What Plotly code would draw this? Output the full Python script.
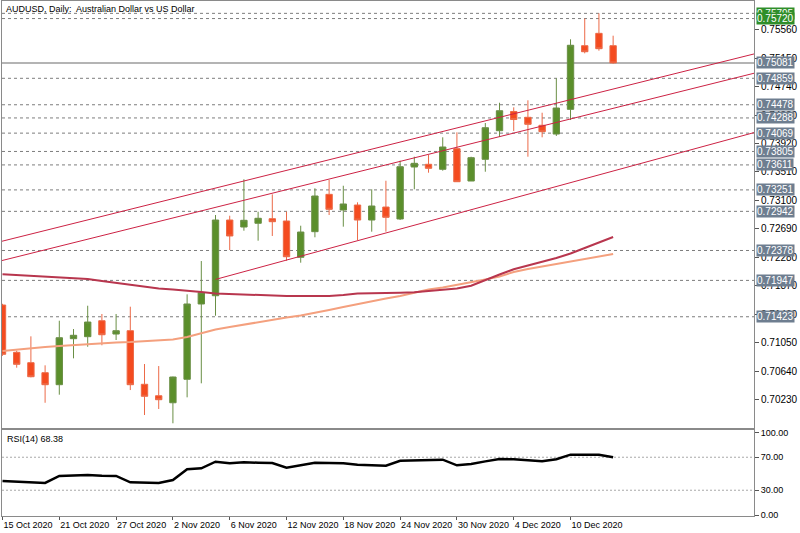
import plotly.graph_objects as go
import pandas as pd

# ---------------- data ----------------
dates = pd.bdate_range("2020-10-15", "2020-12-15")
bar_idx = list(range(len(dates)))

opens = [0.71592, 0.70911, 0.70761, 0.70617, 0.70444, 0.71107, 0.71136, 0.71366, 0.71174, 0.71222,
         0.70450, 0.70285, 0.70184, 0.70522, 0.71607, 0.71726, 0.72817, 0.72716, 0.72770, 0.72836,
         0.72803, 0.72280, 0.72649, 0.73187, 0.72961, 0.73033, 0.72817, 0.73004, 0.72832, 0.73581,
         0.73620, 0.73548, 0.73845, 0.73379, 0.73692, 0.74104, 0.74381, 0.74297, 0.74182, 0.74056,
         0.74412, 0.75329, 0.75507, 0.75329]
highs = [0.71610, 0.70934, 0.71141, 0.70723, 0.71366, 0.71246, 0.71582, 0.71463, 0.71463, 0.71568,
         0.70742, 0.70713, 0.70560, 0.71746, 0.72226, 0.72889, 0.72879, 0.73404, 0.72937, 0.73187,
         0.72937, 0.72735, 0.73274, 0.73394, 0.73311, 0.73072, 0.73260, 0.73383, 0.73672, 0.73729,
         0.73754, 0.74009, 0.74081, 0.73729, 0.74215, 0.74507, 0.74441, 0.74542, 0.74363, 0.74859,
         0.75421, 0.75720, 0.75795, 0.75473]
lows = [0.70860, 0.70689, 0.70550, 0.70184, 0.70300, 0.70824, 0.70991, 0.71012, 0.71088, 0.70367,
        0.70007, 0.70094, 0.69888, 0.70262, 0.70464, 0.71438, 0.72385, 0.72663, 0.72519, 0.72587,
        0.72231, 0.72202, 0.72568, 0.72889, 0.72721, 0.72529, 0.72649, 0.72649, 0.72817, 0.73260,
        0.73499, 0.73528, 0.73369, 0.73379, 0.73513, 0.74013, 0.74100, 0.73729, 0.74009, 0.74028,
        0.74258, 0.75219, 0.75257, 0.75070]
closes = [0.70882, 0.70738, 0.70559, 0.70444, 0.71121, 0.71156, 0.71347, 0.71164, 0.71222, 0.70444,
          0.70277, 0.70228, 0.70555, 0.71607, 0.71770, 0.72817, 0.72587, 0.72813, 0.72842, 0.72793,
          0.72288, 0.72644, 0.73163, 0.72971, 0.73048, 0.72817, 0.73019, 0.72856, 0.73585, 0.73634,
          0.73562, 0.73869, 0.73369, 0.73715, 0.74147, 0.74392, 0.74265, 0.74196, 0.74090, 0.74431,
          0.75335, 0.75242, 0.75286, 0.75081]

ma_fast = [0.72036, 0.72025, 0.72010, 0.71996, 0.71981, 0.71974, 0.71967, 0.71938, 0.71909, 0.71880,
           0.71852, 0.71830, 0.71816, 0.71801, 0.71780, 0.71758, 0.71751, 0.71736, 0.71729, 0.71722,
           0.71722, 0.71722, 0.71722, 0.71722, 0.71736, 0.71758, 0.71761, 0.71761, 0.71770, 0.71775,
           0.71797, 0.71813, 0.71830, 0.71870, 0.71953, 0.72032, 0.72107, 0.72161, 0.72219, 0.72270,
           0.72334, 0.72414, 0.72493, 0.72572]
ma_slow = [0.70929, 0.70951, 0.70973, 0.70987, 0.71001, 0.71016, 0.71030, 0.71045, 0.71052, 0.71059,
           0.71074, 0.71081, 0.71095, 0.71131, 0.71189, 0.71239, 0.71275, 0.71311, 0.71347, 0.71383,
           0.71412, 0.71441, 0.71477, 0.71520, 0.71563, 0.71607, 0.71650, 0.71686, 0.71722, 0.71772,
           0.71816, 0.71844, 0.71880, 0.71917, 0.71960, 0.72003, 0.72068, 0.72111, 0.72147, 0.72183,
           0.72219, 0.72248, 0.72291, 0.72327]

rsi = [41.2, 40.4, 39.6, 38.8, 47.3, 47.7, 48.5, 47.7, 47.3, 39.6,
       38.8, 38.8, 42.4, 55.4, 56.6, 64.6, 62.6, 63.8, 63.4, 63.0,
       57.4, 60.2, 63.4, 63.0, 62.6, 61.0, 60.6, 59.8, 65.8, 66.3,
       66.3, 67.0, 60.2, 61.8, 65.0, 67.9, 67.5, 66.3, 65.0, 67.5,
       73.1, 73.1, 73.1, 70.0]

# channel / trend lines: (bar index, price) end points
channel_x = [[-1, 53], [-1, 53], [15, 53]]
channel_y = [[0.72462, 0.75214], [0.72184, 0.74936], [0.71961, 0.74081]]

levels = [0.75795, 0.75720, 0.74859, 0.74478, 0.74288, 0.74069, 0.73805,
          0.73611, 0.73251, 0.72942, 0.72378, 0.71947, 0.71423]
bid = 0.75081
price_ticks = [0.70230, 0.70640, 0.71050, 0.71460, 0.71870, 0.72280, 0.72690,
               0.73100, 0.73510, 0.73920, 0.74330, 0.74740, 0.75150, 0.75560]
date_tick_idx = [0, 4, 8, 12, 16, 20, 24, 28, 32, 36, 40]
date_tick_text = [f"{dates[i].day} {dates[i].strftime('%b %Y')}" for i in date_tick_idx]
rsi_ticks = [0, 30, 70, 100]
rsi_levels = [30, 70]

# ---------------- styles ----------------
FONT = "Liberation Sans, Arial, sans-serif"
BORDER = "#8a8a8a"
LABEL_BG = "#6e7e90"
GREEN_LABEL = "#2f8e2a"
xr = [-0.035, 52.92]

fig = go.Figure()

fig.add_trace(go.Candlestick(
    x=bar_idx, open=opens, high=highs, low=lows, close=closes,
    increasing=dict(line=dict(color="#6a8f45", width=1), fillcolor="#5b8f2b"),
    decreasing=dict(line=dict(color="#ec6a48", width=1), fillcolor="#f44b1f"),
    whiskerwidth=0, hoverinfo="skip", xaxis="x", yaxis="y", showlegend=False))

fig.add_trace(go.Scatter(x=bar_idx, y=ma_slow, mode="lines",
                         line=dict(color="#f4a07e", width=2), hoverinfo="skip",
                         xaxis="x", yaxis="y", showlegend=False))
fig.add_trace(go.Scatter(x=bar_idx, y=ma_fast, mode="lines",
                         line=dict(color="#b8364e", width=2), hoverinfo="skip",
                         xaxis="x", yaxis="y", showlegend=False))

for cx, cy in zip(channel_x, channel_y):
    fig.add_trace(go.Scatter(x=cx, y=cy, mode="lines",
                             line=dict(color="#cc2244", width=1), hoverinfo="skip",
                             xaxis="x", yaxis="y", showlegend=False))

fig.add_trace(go.Scatter(x=bar_idx, y=rsi, mode="lines",
                         line=dict(color="#000000", width=2.5), hoverinfo="skip",
                         xaxis="x2", yaxis="y2", showlegend=False))

shapes = []
for lv in levels:
    shapes.append(dict(type="line", xref="x domain", x0=0, x1=1, yref="y", y0=lv, y1=lv,
                       line=dict(color="#7d7d7d", width=1, dash="3px,3px"), layer="below"))
shapes.append(dict(type="line", xref="x domain", x0=0, x1=1, yref="y", y0=bid, y1=bid,
                   line=dict(color="#b4b4b4", width=2), layer="below"))
for lv in rsi_levels:
    shapes.append(dict(type="line", xref="x2 domain", x0=0, x1=1, yref="y2", y0=lv, y1=lv,
                       line=dict(color="#a8a8a8", width=1, dash="2px,2px"), layer="below"))

annotations = []
for lv in levels:
    annotations.append(dict(xref="paper", x=1, xanchor="left", xshift=2, yref="y", y=lv,
                            text=f"{lv:.5f}", showarrow=False, borderpad=0,
                            bgcolor=GREEN_LABEL if lv in (0.75795, 0.75720) else LABEL_BG,
                            font=dict(family=FONT, size=10, color="white")))
annotations.append(dict(xref="paper", x=1, xanchor="left", xshift=2, yref="y", y=bid,
                        text=f"{bid:.5f}", showarrow=False, borderpad=0, bgcolor=LABEL_BG,
                        font=dict(family=FONT, size=10, color="white")))
annotations.append(dict(xref="paper", yref="paper", x=0, y=1, xanchor="left", yanchor="top",
                        xshift=2, yshift=-1,
                        text="AUDUSD, Daily:  Australian Dollar vs US Dollar", showarrow=False,
                        font=dict(family=FONT, size=9, color="#000000")))
annotations.append(dict(xref="x2 domain", yref="y2 domain", x=0, y=1, xanchor="left", yanchor="top",
                        xshift=3, yshift=-2, text="RSI(14) 68.38", showarrow=False,
                        font=dict(family=FONT, size=9, color="#000000")))

axis_common = dict(showgrid=False, zeroline=False, showline=True, mirror=True,
                   linecolor=BORDER, linewidth=1, fixedrange=True, automargin=False)

fig.update_layout(
    width=800, height=533,
    margin=dict(l=2, r=46, t=1, b=17),
    paper_bgcolor="white", plot_bgcolor="white",
    boxgap=0.36,
    showlegend=False,
    shapes=shapes, annotations=annotations,
    xaxis=dict(domain=[0, 1], range=xr, anchor="y", showticklabels=False, ticks="",
               rangeslider=dict(visible=False), **axis_common),
    yaxis=dict(domain=[0.1718, 1], range=[0.69827, 0.75973], side="right", anchor="x",
               tickvals=price_ticks, ticktext=[f"{t:.5f}" for t in price_ticks],
               ticks="outside", ticklen=4, tickcolor="#555555",
               tickfont=dict(family=FONT, size=10, color="#000000"), **axis_common),
    xaxis2=dict(domain=[0, 1], range=xr, anchor="y2", tickvals=date_tick_idx,
                ticktext=date_tick_text, ticks="outside", ticklen=3, tickcolor="#555555",
                ticklabelposition="outside right", tickangle=0,
                tickfont=dict(family=FONT, size=9, color="#000000"), **axis_common),
    yaxis2=dict(domain=[0, 0.167], range=[-1.2, 103], side="right", anchor="x2",
                tickvals=rsi_ticks, ticktext=[f"{t:.2f}" for t in rsi_ticks],
                ticks="outside", ticklen=4, tickcolor="#555555",
                tickfont=dict(family=FONT, size=9, color="#000000"), **axis_common),
)

fig.write_html("out.html")
